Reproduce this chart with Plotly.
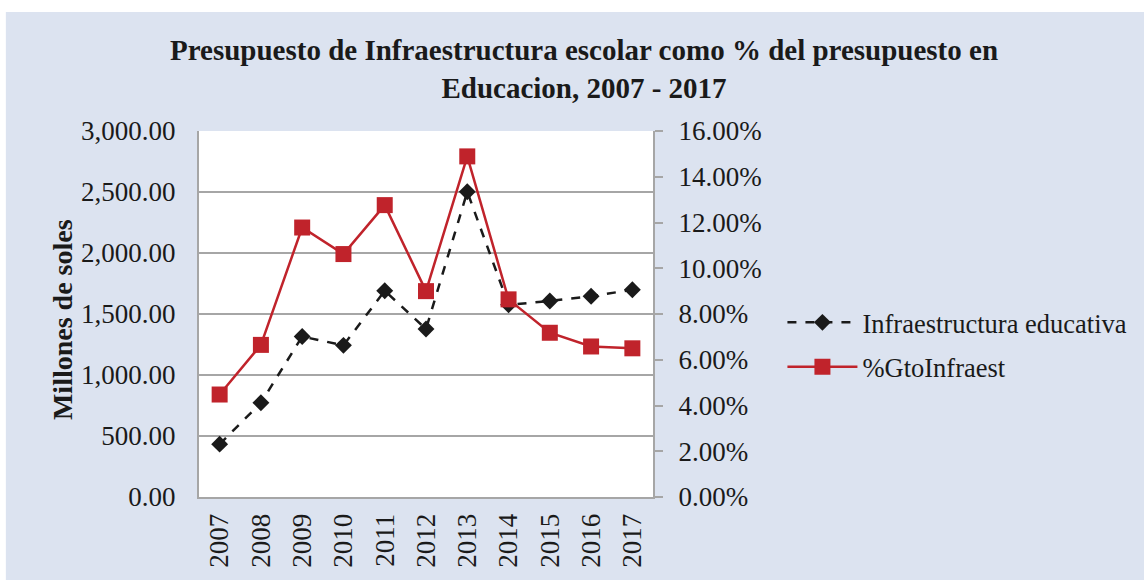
import plotly.graph_objects as go

years = ["2007", "2008", "2009", "2010", "2011", "2012", "2013", "2014", "2015", "2016", "2017"]
infra_educativa = [433, 772, 1315, 1243, 1690, 1377, 2502, 1575, 1607, 1645, 1699]
pct_gto_infraest = [0.0448, 0.0665, 0.1178, 0.1062, 0.1276, 0.0900, 0.1489, 0.0864, 0.0718, 0.0658, 0.0650]

left_ticks = [0, 500, 1000, 1500, 2000, 2500, 3000]
right_ticks = [0, 0.02, 0.04, 0.06, 0.08, 0.10, 0.12, 0.14, 0.16]

W, H = 1144, 580
L, R, T, B = 199, 655, 131, 500
pw, ph = R - L, B - T

def px2x(px):
    return (px - L) / pw

def py2y(py):
    return (B - py) / ph

BG = "#DCE3F0"
GRID = "#A6A6A6"
RED = "#C0232B"
FONT = "Liberation Serif, Times New Roman, serif"

fig = go.Figure()
fig.add_trace(go.Scatter(
    x=years, y=infra_educativa, name="Infraestructura educativa",
    mode="lines+markers", legendgroup="a",
    line=dict(color="#1A1A1A", width=2.5, dash="dash"),
    marker=dict(symbol="diamond", size=13, color="#1A1A1A"),
    yaxis="y",
))
fig.add_trace(go.Scatter(
    x=years, y=pct_gto_infraest, name="%GtoInfraest",
    mode="lines+markers", legendgroup="b",
    line=dict(color=RED, width=2.5),
    marker=dict(symbol="square", size=16, color=RED),
    yaxis="y2",
))

shapes = [
    dict(type="rect", xref="paper", yref="paper", layer="below",
         x0=px2x(5), x1=px2x(W + 5), y0=py2y(H + 5), y1=py2y(11),
         fillcolor=BG, line=dict(width=0)),
    dict(type="rect", xref="paper", yref="paper", layer="below",
         x0=0, x1=1, y0=0, y1=1, fillcolor="white", line=dict(width=0)),
]

fig.update_layout(
    width=W, height=H,
    margin=dict(l=L, r=W - R, t=T, b=H - B),
    paper_bgcolor="white",
    plot_bgcolor="white",
    shapes=shapes,
    font=dict(family=FONT, color="#1A1A1A", size=26),
    title=dict(
        text="<b>Presupuesto de Infraestructura escolar como % del presupuesto en<br>Educacion, 2007 - 2017</b>",
        x=584 / W, xref="container", xanchor="center",
        y=1 - 60 / H, yref="container", yanchor="middle",
        font=dict(family=FONT, size=29, color="#1A1A1A"),
    ),
    xaxis=dict(
        type="category", range=[-0.5, 10.5],
        showgrid=False, showline=True, linecolor=GRID, linewidth=2,
        ticks="", tickangle=-90, tickfont=dict(size=27, family=FONT),
        ticklabelstandoff=4,
    ),
    yaxis=dict(
        range=[0, 3000], tickvals=left_ticks, tickformat=",.2f",
        showgrid=True, gridcolor=GRID, gridwidth=2,
        showline=True, linecolor=GRID, linewidth=2,
        ticks="", zeroline=False,
        tickfont=dict(size=27, family=FONT), ticklabelstandoff=16,
    ),
    yaxis2=dict(
        range=[0, 0.16], tickvals=right_ticks, tickformat=".2%",
        overlaying="y", side="right", showgrid=False,
        showline=True, linecolor=GRID, linewidth=2,
        ticks="outside", ticklen=8, tickwidth=2, tickcolor=GRID,
        zeroline=False,
        tickfont=dict(size=27, family=FONT), ticklabelstandoff=10,
    ),
    legend=dict(
        x=px2x(785), y=py2y(300), xanchor="left", yanchor="top",
        bgcolor="rgba(0,0,0,0)", font=dict(size=26.5, family=FONT),
        tracegroupgap=7, itemwidth=70,
    ),
    annotations=[dict(
        text="<b>Millones de soles</b>", textangle=-90,
        x=px2x(62), y=py2y(321), xref="paper", yref="paper",
        xanchor="center", yanchor="middle",
        showarrow=False, font=dict(size=28, family=FONT, color="#1A1A1A"),
    )],
)

fig.write_html("out.html", config={"displayModeBar": False},
               post_script="document.body.style.margin='0';")
